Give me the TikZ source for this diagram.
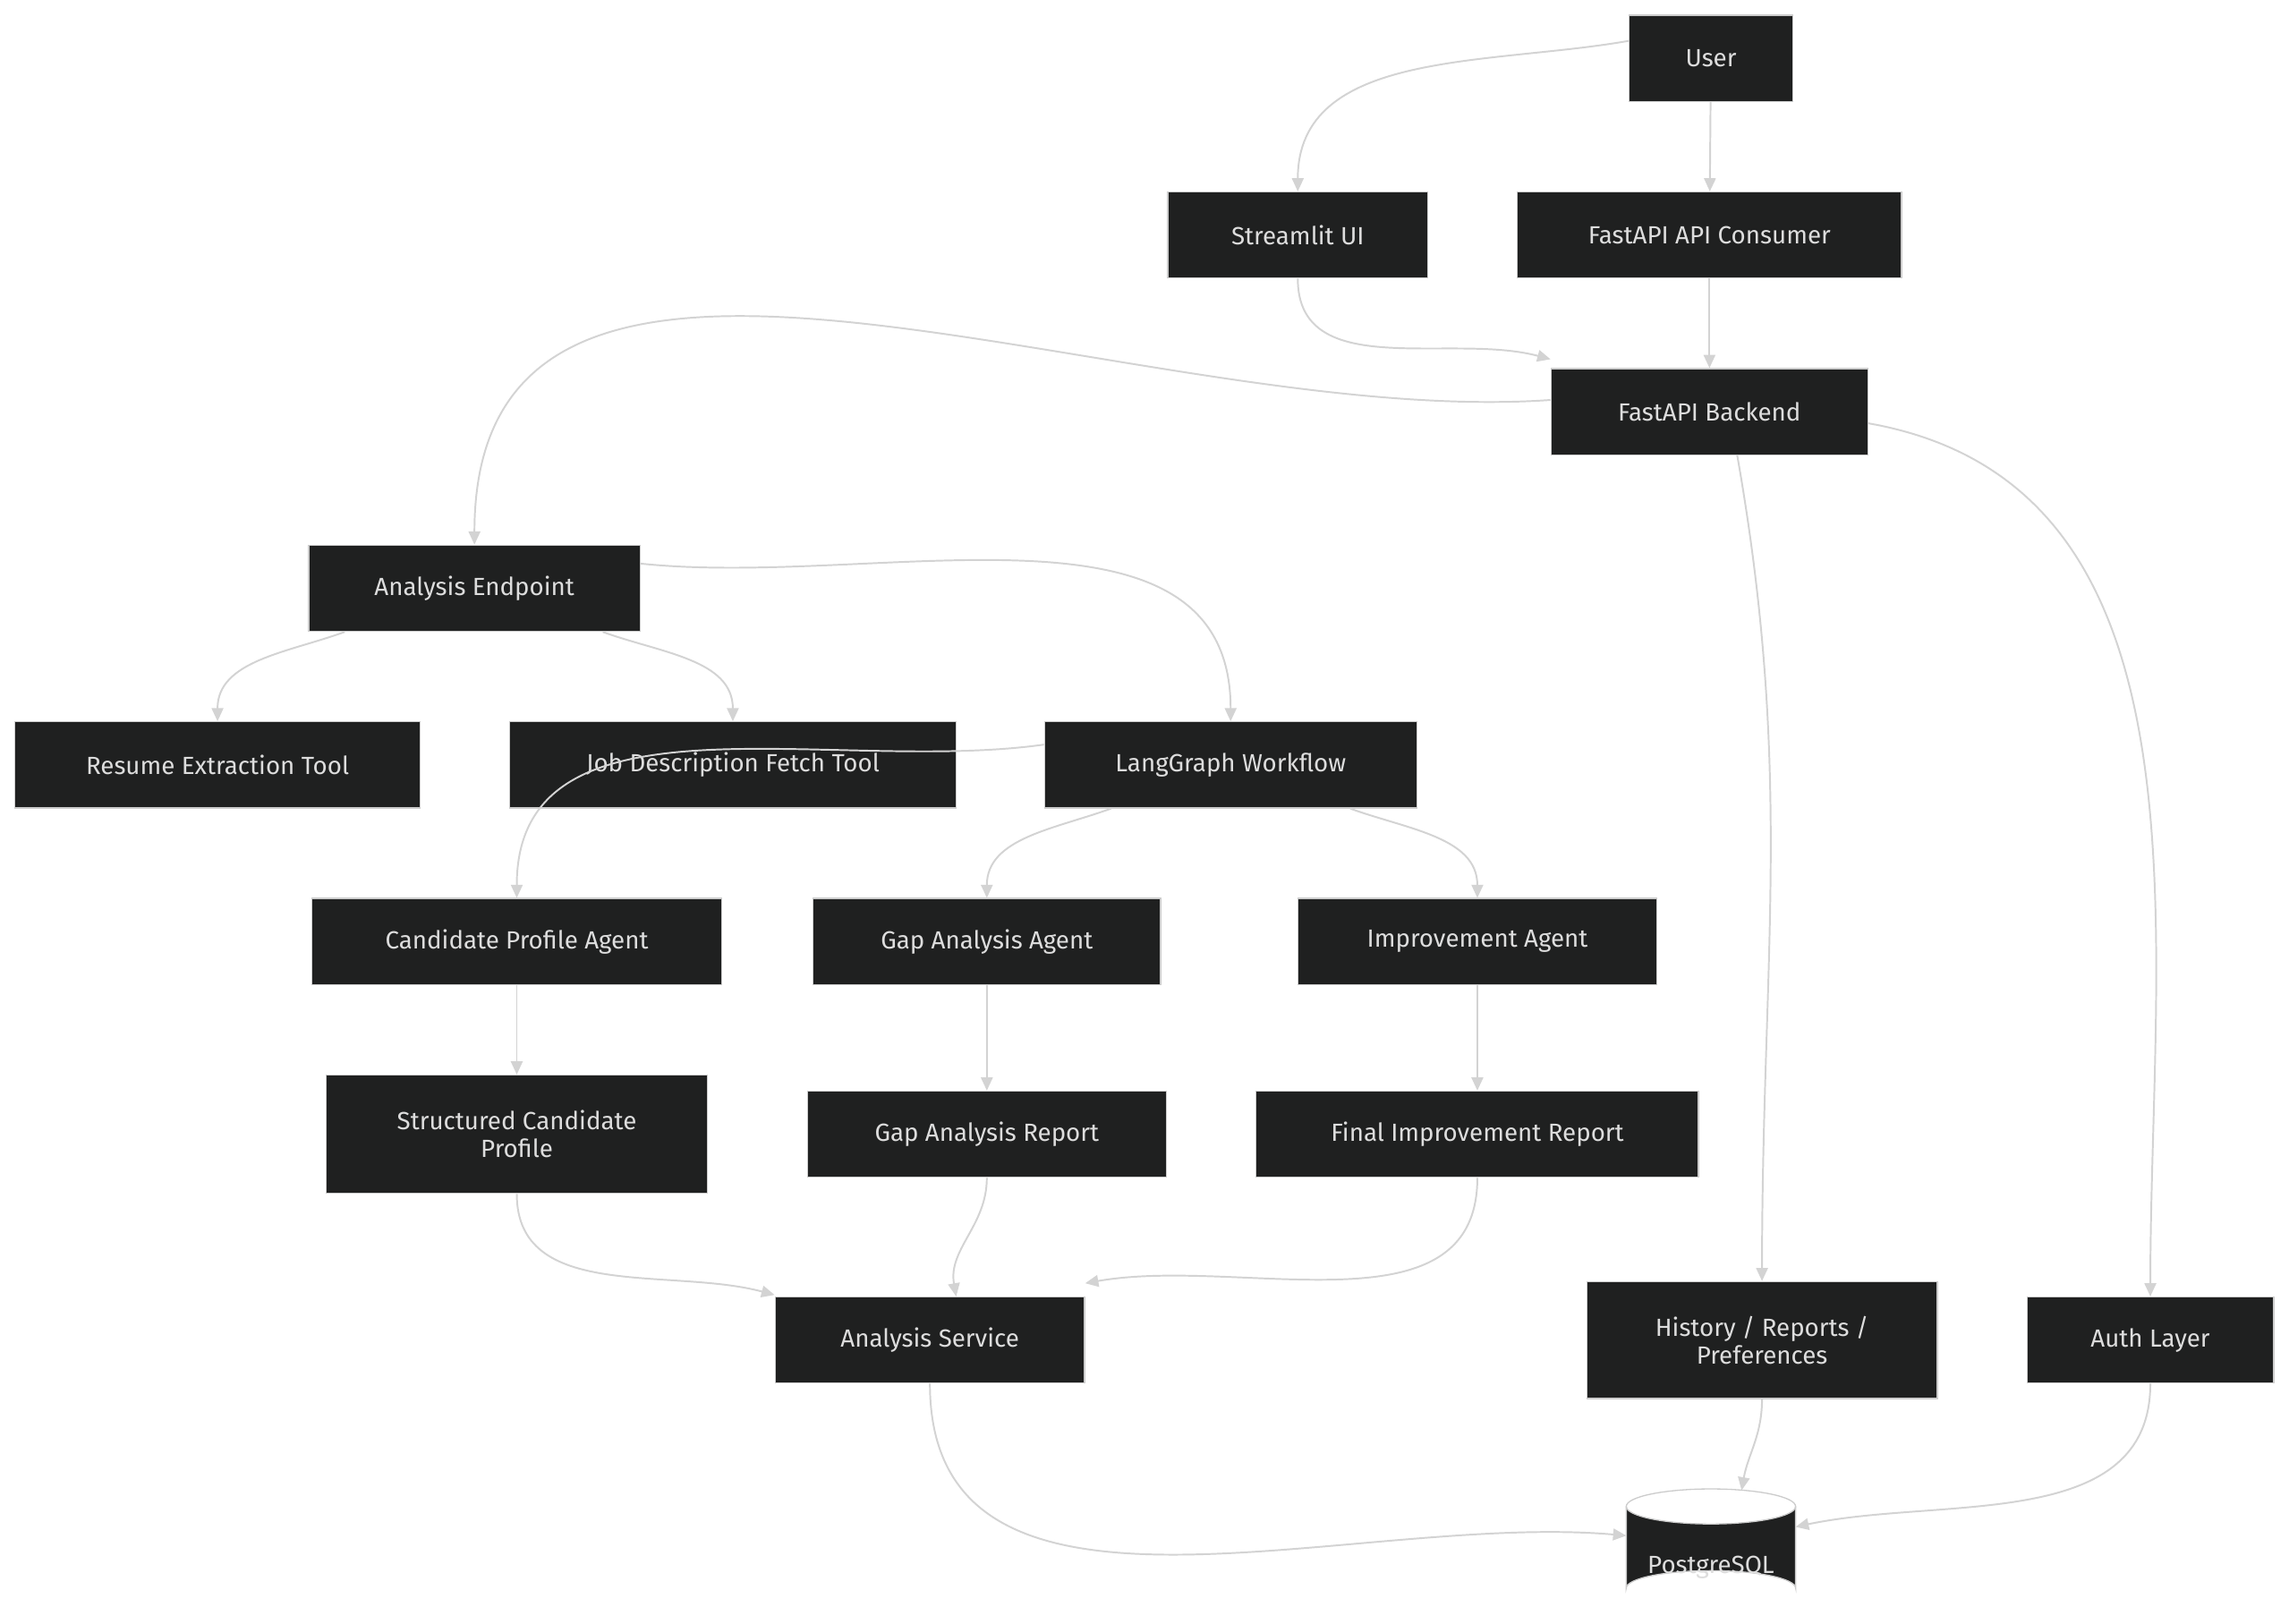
\documentclass[tikz,border=0pt]{standalone}
\usepackage{fontspec}
\setmainfont{Fira Sans}
\usetikzlibrary{arrows.meta}
\definecolor{nfill}{HTML}{1F2020}
\definecolor{nline}{HTML}{CCCCCC}
\definecolor{ntext}{HTML}{DDDDDD}
\definecolor{eline}{HTML}{D3D3D3}
\begin{document}
\begin{tikzpicture}[x=1pt,y=-1pt,
  box/.style={draw=nline,line width=0.8pt,fill=nfill,text=ntext,font=\fontsize{17}{19}\selectfont,align=center,inner sep=0pt,minimum height=59pt},
  e/.style={draw=eline,line width=1.2pt,-{Triangle[length=9pt,width=8pt]}}]
\useasboundingbox[fill=white] (0,0) rectangle (1568,1112);
\node[box,minimum width=112pt] (user) at (1172,40) {User};
\node[box,minimum width=178pt] (st) at (889,161) {Streamlit UI};
\node[box,minimum width=263pt] (cons) at (1171,161) {FastAPI API Consumer};
\node[box,minimum width=217pt] (be) at (1171,282) {FastAPI Backend};
\node[box,minimum width=227pt] (ep) at (325,403) {Analysis Endpoint};
\node[box,minimum width=278pt] (res) at (149,524) {Resume Extraction Tool};
\node[box,minimum width=306pt] (jd) at (502,524) {Job Description Fetch Tool};
\node[box,minimum width=255pt] (lg) at (843,524) {LangGraph Workflow};
\node[box,minimum width=281pt] (cpa) at (354,645) {Candidate Profile Agent};
\node[box,minimum width=238pt] (gaa) at (676,645) {Gap Analysis Agent};
\node[box,minimum width=246pt] (ia) at (1012,645) {Improvement Agent};
\node[box,minimum width=261pt,minimum height=81pt] (scp) at (354,777) {Structured Candidate\\Profile};
\node[box,minimum width=246pt] (gar) at (676,777) {Gap Analysis Report};
\node[box,minimum width=303pt] (fir) at (1012,777) {Final Improvement Report};
\node[box,minimum width=212pt] (as) at (637,918) {Analysis Service};
\node[box,minimum width=240pt,minimum height=80pt] (hist) at (1207,918) {History / Reports /\\Preferences};
\node[box,minimum width=169pt] (auth) at (1473,918) {Auth Layer};
% cylinder
\fill[nfill] (1114,1032) -- (1114,1088) arc[start angle=180,end angle=360,x radius=58,y radius=12] -- (1230,1032) arc[start angle=0,end angle=180,x radius=58,y radius=12];
\draw[nline,line width=0.8pt] (1114,1032) -- (1114,1088) arc[start angle=180,end angle=360,x radius=58,y radius=12] -- (1230,1032);
\draw[nline,line width=0.8pt] (1172,1032) ellipse[x radius=58,y radius=12];
\node[font=\fontsize{17}{19}\selectfont,text=ntext,inner sep=0pt,minimum width=116pt,minimum height=80pt] (pg) at (1172,1060) {};
\node[font=\fontsize{17}{19}\selectfont,text=ntext] at (1172,1074) {PostgreSQL};
\coordinate (pgl) at (1114,1052);
\coordinate (pgr) at (1230,1046);
\coordinate (pgt) at (1193,1021);
% edges
\draw[e] ([yshift=12pt]user.west) to[out=190,in=90] (st.north);
\draw[e] (user) -- (cons);
\draw[e] (st.south) to[out=-90,in=165] ([yshift=6pt]be.north west);
\draw[e] (cons) -- (be);
\draw[e] ([yshift=8pt]be.west) to[out=184,in=90] (ep.north);
\draw[e] ([xshift=19pt]be.south) to[out=-80,in=90] (hist.north);
\draw[e] ([yshift=-8pt]be.east) to[out=-10,in=90] (auth.north);
\draw[e] ([xshift=25pt]ep.south west) to[out=-160,in=90] (res.north);
\draw[e] ([xshift=-26pt]ep.south east) to[out=-20,in=90] (jd.north);
\draw[e] ([yshift=-13pt]ep.north east) to[out=-6,in=90] (lg.north);
\draw[e] ([yshift=-16pt]lg.north west) to[out=188,in=90] (cpa.north);
\draw[e] ([xshift=46pt]lg.south west) to[out=-160,in=90] (gaa.north);
\draw[e] ([xshift=-46pt]lg.south east) to[out=-20,in=90] (ia.north);
\draw[e] (cpa) -- (scp);
\draw[e] (gaa) -- (gar);
\draw[e] (ia) -- (fir);
\draw[e] (scp.south) to[out=-90,in=165] ([yshift=1pt]as.north west);
\draw[e] (gar.south) to[out=-90,in=100] ([xshift=18pt]as.north);
\draw[e] (fir.south) to[out=-90,in=10] ([yshift=9pt]as.north east);
\draw[e] (as.south) to[out=-90,in=175] (pgl);
\draw[e] (hist.south) to[out=-90,in=80] (pgt);
\draw[e] (auth.south) to[out=-90,in=12] (pgr);
\end{tikzpicture}
\end{document}
